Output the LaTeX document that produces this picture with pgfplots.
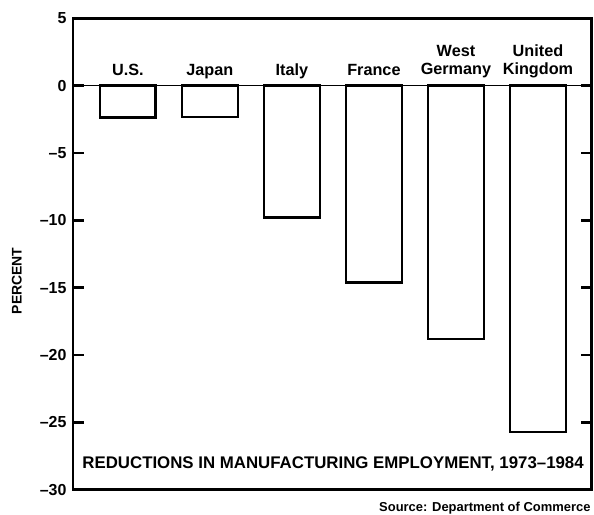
\documentclass[border=0pt]{standalone}
\usepackage{fontspec}
\setmainfont{Liberation Sans}
\usepackage{pgfplots}
\pgfplotsset{compat=1.18}
\begin{document}
\begin{tikzpicture}[x=1bp,y=1bp]
\begin{axis}[
  at={(0,0)}, anchor=south west,
  scale only axis, width=519bp, height=471.5bp,
  xmin=-0.67, xmax=5.655, ymin=-30, ymax=5,
  ytick={5,0,-5,-10,-15,-20,-25,-30},
  yticklabels={5,0,--5,--10,--15,--20,--25,--30},
  xtick=\empty,
  tick align=inside, major tick length=11bp,
  ytick pos=both, yticklabel pos=left,
  yticklabel style={font=\bfseries\fontsize{16}{16}\selectfont, xshift=-3bp},
  axis line style={line width=2.5bp},
  every tick/.style={line width=2.5bp, black},
  clip=false,
]
\addplot[ybar, bar width=0.68, draw=black, line width=2.5bp, fill=white] coordinates {
  (0,-2.37) (1,-2.32) (2,-9.8) (3,-14.6) (4,-18.8) (5,-25.7)
};
\draw[line width=1.5bp] (axis cs:-0.67,0) -- (axis cs:5.655,0);
\path (rel axis cs:-0.1405,-0.051) rectangle (rel axis cs:1.0044,1.039);
\begin{scope}[every node/.style={font=\bfseries\fontsize{16.3}{17}\selectfont, anchor=base, inner sep=0pt}]
\node[yshift=10bp] at (axis cs:0,0) {U.S.};
\node[yshift=10bp] at (axis cs:1,0) {Japan};
\node[yshift=10bp] at (axis cs:2,0) {Italy};
\node[yshift=10bp] at (axis cs:3,0) {France};
\node[yshift=29bp] at (axis cs:4,0) {West};
\node[yshift=11bp] at (axis cs:4,0) {Germany};
\node[yshift=29bp] at (axis cs:5,0) {United};
\node[yshift=11bp] at (axis cs:5,0) {Kingdom};
\end{scope}
\node[anchor=base west, inner sep=0pt, font=\bfseries\fontsize{16.9}{17}\selectfont] at (rel axis cs:0.018,0.044) {REDUCTIONS IN MANUFACTURING EMPLOYMENT, 1973--1984};
\node[anchor=base east, inner sep=0pt, font=\bfseries\fontsize{13}{14}\selectfont] at (rel axis cs:0.998,-0.047) {Source: Department of Commerce};
\node[rotate=90, anchor=center, inner sep=0pt, font=\bfseries\fontsize{14}{14}\selectfont] at (rel axis cs:-0.108,0.443) {PERCENT};
\end{axis}
\end{tikzpicture}
\end{document}
